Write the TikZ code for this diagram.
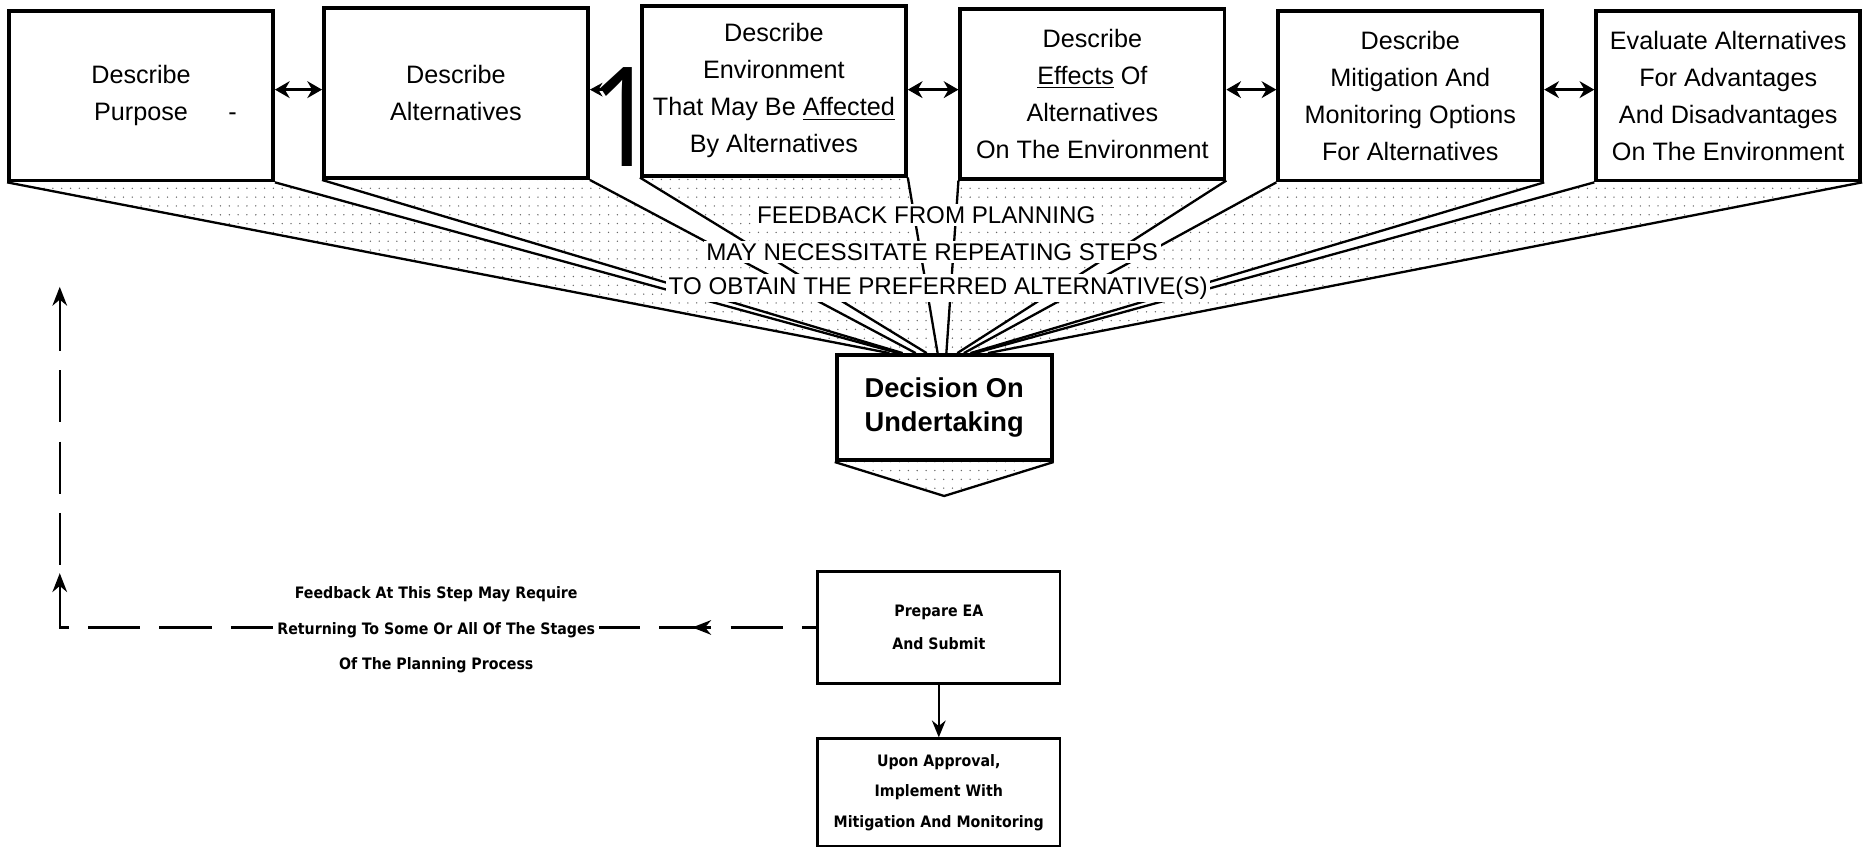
\documentclass[tikz,border=0pt]{standalone}
\usepackage{graphicx}
\usepackage{fontspec}
\setmainfont{Liberation Sans}
\newfontfamily\condfont{DejaVu Sans Condensed}
\newfontfamily\numfont{Noto Sans}
\usetikzlibrary{arrows.meta,patterns.meta,decorations.markings,calc,backgrounds}

\tikzset{
  stepbox/.style={draw, line width=1.8pt, minimum width=4.42cm, minimum height=2.84cm,
    align=center, inner sep=0pt, font=\fontsize{12}{17.6}\selectfont},
  link/.style={line width=1.6pt, {Stealth[length=7pt,width=8pt]}-{Stealth[length=7pt,width=8pt]}},
  fanline/.style={line width=1.1pt},
  fanfill/.style={pattern={Dots[distance=4.2pt,radius=0.36pt]}, pattern color=black!60},
  fbtext/.style={fill=white, inner sep=1.2pt, font=\fontsize{11.5}{12}\selectfont},
  decbox/.style={draw, line width=1.8pt, fill=white, minimum width=3.6cm, minimum height=1.76cm,
    align=center, font=\bfseries\fontsize{13}{16.5}\selectfont},
  smallbox/.style={draw, line width=1.2pt, minimum width=4.06cm, align=center,
    font=\condfont\bfseries\fontsize{7.5}{16}\selectfont},
  returnline/.style={line width=1pt, dash pattern=on 24.9pt off 9.1pt},
  tipline/.style={line width=1.2pt, -{Stealth[length=8pt,width=6.5pt]}},
}

\begin{document}
\begin{tikzpicture}[x=0.02cm,y=-0.02cm]
\useasboundingbox (0,0) rectangle (1568,711);

% planning steps
\node[stepbox] (b1) at (118,80)    {Describe\\Purpose\rlap{\hspace{1.6em}-}};
\node[stepbox] (b2) at (381.5,78)  {Describe\\Alternatives};
\node[stepbox] (b3) at (647.5,76)  {Describe\\Environment\\That May Be \underline{Affected}\\By Alternatives};
\node[stepbox] (b4) at (914,78.5)  {Describe\\\underline{Effects} Of\\Alternatives\\On The Environment};
\node[stepbox] (b5) at (1180,80)   {Describe\\Mitigation And\\Monitoring Options\\For Alternatives};
\node[stepbox] (b6) at (1446,80)   {Evaluate Alternatives\\For Advantages\\And Disadvantages\\On The Environment};

% links between steps
\draw[link] (b1.east |- 0,75) -- (b2.west |- 0,75);
\draw[link] (b3.east |- 0,75) -- (b4.west |- 0,75);
\draw[link] (b4.east |- 0,75) -- (b5.west |- 0,75);
\draw[link] (b5.east |- 0,75) -- (b6.west |- 0,75);

\node[inner sep=0pt, font=\numfont\fontsize{66}{66}\selectfont] (one) at (522,97.5) {\scalebox{0.85}[1]{1}};
\coordinate (stub) at (506,75);
\draw[line width=1.4pt, -{Stealth[length=6pt,width=6.5pt]}] (stub) -- (b2.east |- stub);

% decision
\node[decbox] (dec) at (790,341) {Decision On\\Undertaking};
\coordinate (tip) at (790,415);

\begin{scope}[on background layer]
  \foreach \b/\l/\r in {b1/0.25/0.29, b2/0.31/0.37, b3/0.42/0.47, b4/0.51/0.56, b5/0.59/0.62, b6/0.64/0.70} {
    \fill[fanfill] (\b.south west) -- ($(dec.north west)!\l!(dec.north east)$)
      -- ($(dec.north west)!\r!(dec.north east)$) -- (\b.south east) -- cycle;
    \draw[fanline] (\b.south west) -- ($(dec.north west)!\l!(dec.north east)$);
    \draw[fanline] (\b.south east) -- ($(dec.north west)!\r!(dec.north east)$);
  }
  \fill[fanfill] (dec.south west) -- (tip) -- (dec.south east) -- cycle;
\end{scope}
\draw[fanline] (dec.south west) -- (tip) -- (dec.south east);

\node[fbtext] (fb1) at (775,180) {FEEDBACK FROM PLANNING};
\node[fbtext] (fb2) at (780,211) {MAY NECESSITATE REPEATING STEPS};
\node[fbtext] (fb3) at (785,241) {TO OBTAIN THE PREFERRED ALTERNATIVE(S)};

% submission and approval
\node[smallbox, minimum height=1.88cm] (prep) at (785.5,525) {Prepare EA\\And Submit};
\node[smallbox, minimum height=1.8cm, font=\condfont\bfseries\fontsize{7.5}{14.5}\selectfont]
  (upon) at (785.5,663) {Upon Approval,\\Implement With\\Mitigation And Monitoring};
\draw[tipline] (prep) -- (upon);

% return path to the planning stages
\coordinate (corner) at (50,525);
\coordinate (rtop) at (50,240);
\draw[returnline, {Stealth[length=9pt,width=7pt]}-,
  postaction={decorate},
  decoration={markings,
    mark=at position 0.261 with {\arrowreversed{Stealth[length=9pt,width=7pt]}},
    mark=at position 0.887 with {\arrowreversed{Stealth[length=9pt,width=7pt]}}}]
  (rtop) -- (corner) -- (prep.west);

\node[fill=white, align=center, inner sep=2pt,
  font=\condfont\bfseries\fontsize{7.5}{17}\selectfont] (rlabel) at (365,527)
  {Feedback At This Step May Require\\Returning To Some Or All Of The Stages\\Of The Planning Process};
\end{tikzpicture}
\end{document}
